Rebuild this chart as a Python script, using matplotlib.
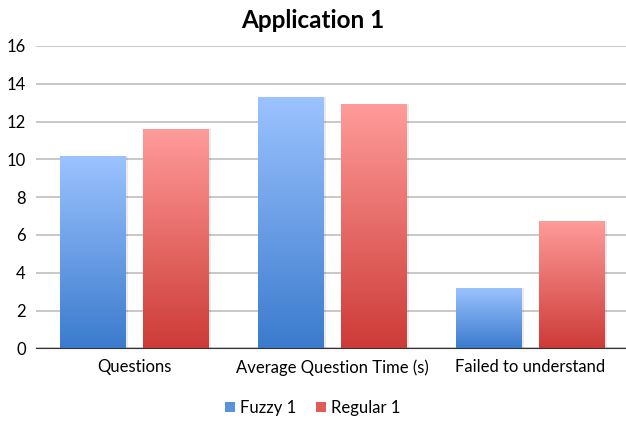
import numpy as np
import matplotlib.pyplot as plt
from matplotlib.colors import LinearSegmentedColormap
from matplotlib.patches import Patch

categories = ["Questions", "Average Question Time (s)", "Failed to understand"]
fuzzy = [10.2, 13.3, 3.2]
regular = [11.6, 12.95, 6.75]
series_names = ["Fuzzy 1", "Regular 1"]

plt.rcParams['font.family'] = ['Lato', 'DejaVu Sans']

fig = plt.figure(figsize=(6.26, 4.23), dpi=100)
ax = fig.add_axes([35.5 / 626, (423 - 348.3) / 423, 594 / 626, (348.3 - 46) / 423])

blue_cmap = LinearSegmentedColormap.from_list("blue", ["#3b7bcd", "#9cc3ff"])
red_cmap = LinearSegmentedColormap.from_list("red", ["#cd3b37", "#ff9c9a"])

x = np.arange(len(categories))
width = 0.333
offset = 0.21

grad = np.linspace(0, 1, 256).reshape(-1, 1)


def gradient_bars(xs, vals, cmap, label):
    bars = ax.bar(xs, vals, width, color="none", edgecolor="none", label=label, zorder=3)
    for b in bars:
        x0, y0 = b.get_x(), b.get_y()
        w, h = b.get_width(), b.get_height()
        # soft shadow behind each bar
        ax.bar(x0 + w / 2 + 0.006, h, w + 0.012, bottom=0, color="#000000",
               alpha=0.08, zorder=2, linewidth=0)
        im = ax.imshow(grad, cmap=cmap, aspect="auto", origin="lower",
                       extent=[x0, x0 + w, y0, y0 + h], zorder=3)
        im.set_clip_path(b)
    return bars


gradient_bars(x - offset, fuzzy, blue_cmap, series_names[0])
gradient_bars(x + offset, regular, red_cmap, series_names[1])

ax.set_xlim(-0.5, 2.5)
ax.set_ylim(0, 16)
ax.set_yticks(range(0, 17, 2))
ax.set_xticks(x)
ax.set_xticklabels(categories, fontsize=12)
ax.tick_params(axis="y", labelsize=12, length=0, pad=7)
ax.tick_params(axis="x", length=0, pad=8)
ax.grid(axis="y", color="#bfbfbf", linewidth=1.2, zorder=0)
ax.set_axisbelow(True)
for s in ["top", "right", "left"]:
    ax.spines[s].set_visible(False)
ax.spines["bottom"].set_color("#333333")
ax.spines["bottom"].set_zorder(4)

fig.text(0.5, 1 - 20 / 423, "Application 1", ha="center", va="center",
         fontsize=17.5, fontweight="bold")

handles = [Patch(facecolor="#5a92dc", edgecolor="none"),
           Patch(facecolor="#e25a58", edgecolor="none")]
fig.legend(handles, series_names, loc="center", bbox_to_anchor=(0.5, 1 - 408 / 423),
           ncol=2, frameon=False, fontsize=12, handlelength=0.6, handleheight=0.6,
           handletextpad=0.3, columnspacing=1.2)

fig.savefig("out.png", dpi=100)
